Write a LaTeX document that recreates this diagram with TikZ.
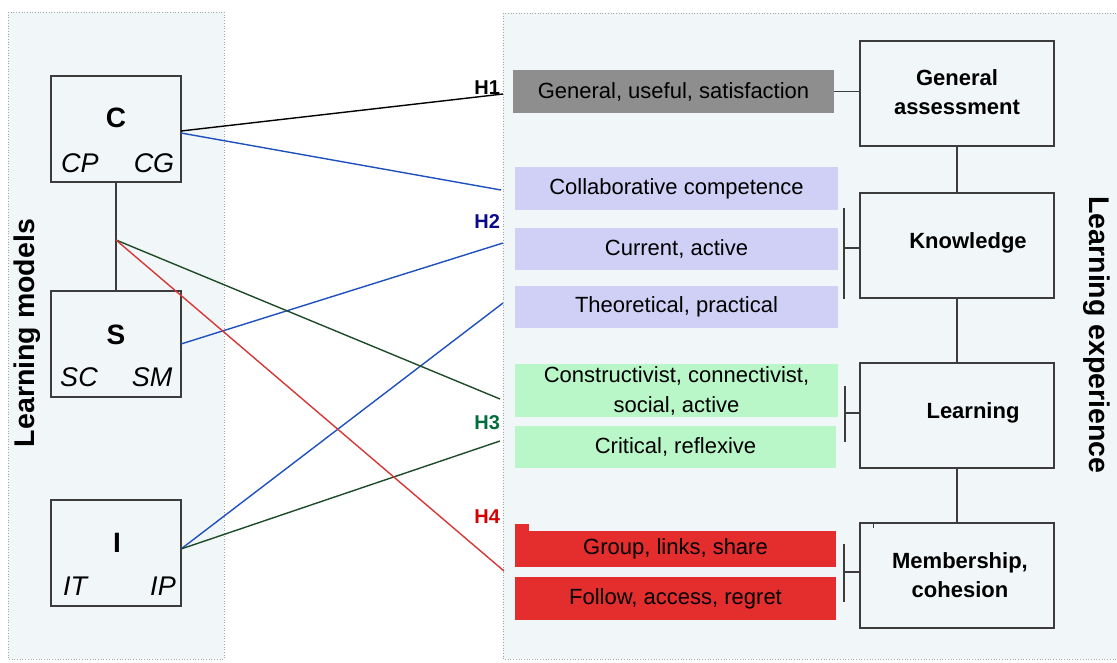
\documentclass[tikz,border=0pt]{standalone}
\usepackage{fontspec}
\setmainfont{Liberation Sans}
\definecolor{bgc}{RGB}{241,247,248}
\definecolor{boxc}{RGB}{60,60,60}
\definecolor{grayc}{RGB}{142,142,142}
\definecolor{lavc}{RGB}{208,208,247}
\definecolor{grnc}{RGB}{185,247,200}
\definecolor{redc}{RGB}{228,45,45}
\definecolor{bluel}{RGB}{30,80,190}
\definecolor{greenl}{RGB}{30,75,40}
\definecolor{redl}{RGB}{215,55,55}
\definecolor{h2c}{RGB}{10,10,140}
\definecolor{h3c}{RGB}{0,110,60}
\definecolor{h4c}{RGB}{215,0,0}
\begin{document}
\begin{tikzpicture}[x=1pt,y=-1pt,
  every node/.style={inner sep=0pt, outer sep=0pt},
  panel/.style={fill=bgc, draw=gray!70, dotted, line width=0.7pt},
  mbox/.style={draw=boxc, line width=1.6pt, fill=bgc, minimum width=130pt, minimum height=106pt},
  ebox/.style={draw=boxc, line width=1.6pt, fill=bgc, minimum width=194pt, minimum height=105pt},
  etext/.style={font=\fontsize{22}{29}\selectfont\bfseries, align=center},
  item/.style={minimum width=323pt, font=\fontsize{22}{30}\selectfont, align=center},
  big/.style={font=\fontsize{28}{28}\selectfont\bfseries},
  sub/.style={font=\fontsize{27}{27}\selectfont\itshape},
  link/.style={line width=1.4pt},
  hlab/.style={anchor=east, font=\fontsize{20}{20}\selectfont\bfseries},
  conn/.style={draw=boxc, line width=1.6pt},
  side/.style={font=\fontsize{28.5}{28.5}\selectfont\bfseries}
]
\useasboundingbox (0,0) rectangle (1117,662);
\fill[white] (0,0) rectangle (1117,662);
\draw[panel] (8,12) rectangle (224,659);
\draw[panel] (503,13) rectangle (1118,659);

% side titles
\node[side, rotate=90] (lm) at (27,333) {Learning models};
\node[side, rotate=-90] (le) at (1097,335) {Learning experience};

% left model boxes
\node[mbox] (C) at (116,129) {};
\node[mbox] (S) at (116,344) {};
\node[mbox] (I) at (116,553) {};
\node[big] (Ct) at (116,118) {C};
\node[sub] (CP) at (80,163) {CP};
\node[sub] (CG) at (154,163) {CG};
\node[big] (St) at (116,335) {S};
\node[sub] (SC) at (79,377) {SC};
\node[sub] (SM) at (152,377) {SM};
\node[big] (It) at (117,543) {I};
\node[sub] (IT) at (75,586) {IT};
\node[sub] (IP) at (163,586) {IP};
\draw[conn] (C.south) -- (S.north);
\coordinate (J) at (116,240);

% end points of the hypothesis links
\coordinate (e1) at (503,94);
\coordinate (e2) at (501,190);
\coordinate (e3) at (503,243);
\coordinate (e4) at (503,303);
\coordinate (e5) at (500,399);
\coordinate (e6) at (500,441);
\coordinate (e7) at (504,571);

\draw[link, black] ([yshift=-2pt]C.east) -- (e1);
\draw[link, bluel] ([yshift=-4pt]C.east) -- (e2);
\draw[link, bluel] (S.east) -- (e3);
\draw[link, bluel] ([yshift=4pt]I.east) -- (e4);
\draw[link, greenl] (J) -- (e5);
\draw[link, greenl] ([yshift=4pt]I.east) -- (e6);
\draw[link, redl] (J) -- (e7);

\node[hlab, black] (H1) at (500,88) {H1};
\node[hlab, h2c] (H2) at (500,222) {H2};
\node[hlab, h3c] (H3) at (500,423) {H3};
\node[hlab, h4c] (H4) at (500,517) {H4};

% middle items
\node[item, fill=grayc, minimum width=321pt, minimum height=43pt] (gen) at (673.5,91.5) {General, useful, satisfaction};
\node[item, fill=lavc, minimum height=43pt] (col) at (676.5,188.5) {Collaborative competence};
\node[item, fill=lavc, minimum height=42pt] (cur) at (676.5,249) {Current, active};
\node[item, fill=lavc, minimum height=42pt] (the) at (676.5,307) {Theoretical, practical};
\node[item, fill=grnc, minimum height=53pt] (con) at (676.5,390.5) {Constructivist, connectivist,\\social, active};
\node[item, fill=grnc, minimum width=321pt, minimum height=42pt] (cri) at (675.5,447) {Critical, reflexive};
\fill[redc] (515,524) rectangle (529,532);
\node[item, fill=redc, minimum width=321pt, minimum height=36pt] (grp) at (675.5,549) {Group, links, share};
\node[item, fill=redc, minimum width=321pt, minimum height=43pt] (fol) at (675.5,598.5) {Follow, access, regret};

% right experience boxes
\node[ebox] (GA) at (957,93.5) {};
\node[ebox] (KN) at (957,245.5) {};
\node[ebox] (LE) at (957,415.5) {};
\node[ebox] (ME) at (957,575.5) {};
\node[etext] (GAt) at (957,92) {General\\assessment};
\node[etext] (KNt) at (968,243) {Knowledge};
\node[etext] (LEt) at (973,413) {Learning};
\node[etext] (MEt) at (960,575) {Membership,\\cohesion};
\draw[conn] (GA.south) -- (KN.north);
\draw[conn] (KN.south) -- (LE.north);
\draw[conn] (LE.south) -- (ME.north);
\draw[conn] (gen.east) -- (gen.east -| GA.west);

% brackets
\draw[conn] ([yshift=-2.5pt]KN.west) -- ++(-16,0);
\draw[conn] ([xshift=-16pt,yshift=37.5pt]KN.west) -- ++(0,91);
\draw[conn] ([yshift=2.5pt]LE.west) -- ++(-15,0);
\draw[conn] ([xshift=-15pt,yshift=29.5pt]LE.west) -- ++(0,56);
\draw[conn] ([yshift=3.5pt]ME.west) -- ++(-16,0);
\draw[conn] ([xshift=-16pt,yshift=31.5pt]ME.west) -- ++(0,58);
\draw[boxc, line width=1pt] ([xshift=13pt]ME.north west) -- ++(0,5);
\end{tikzpicture}
\end{document}
